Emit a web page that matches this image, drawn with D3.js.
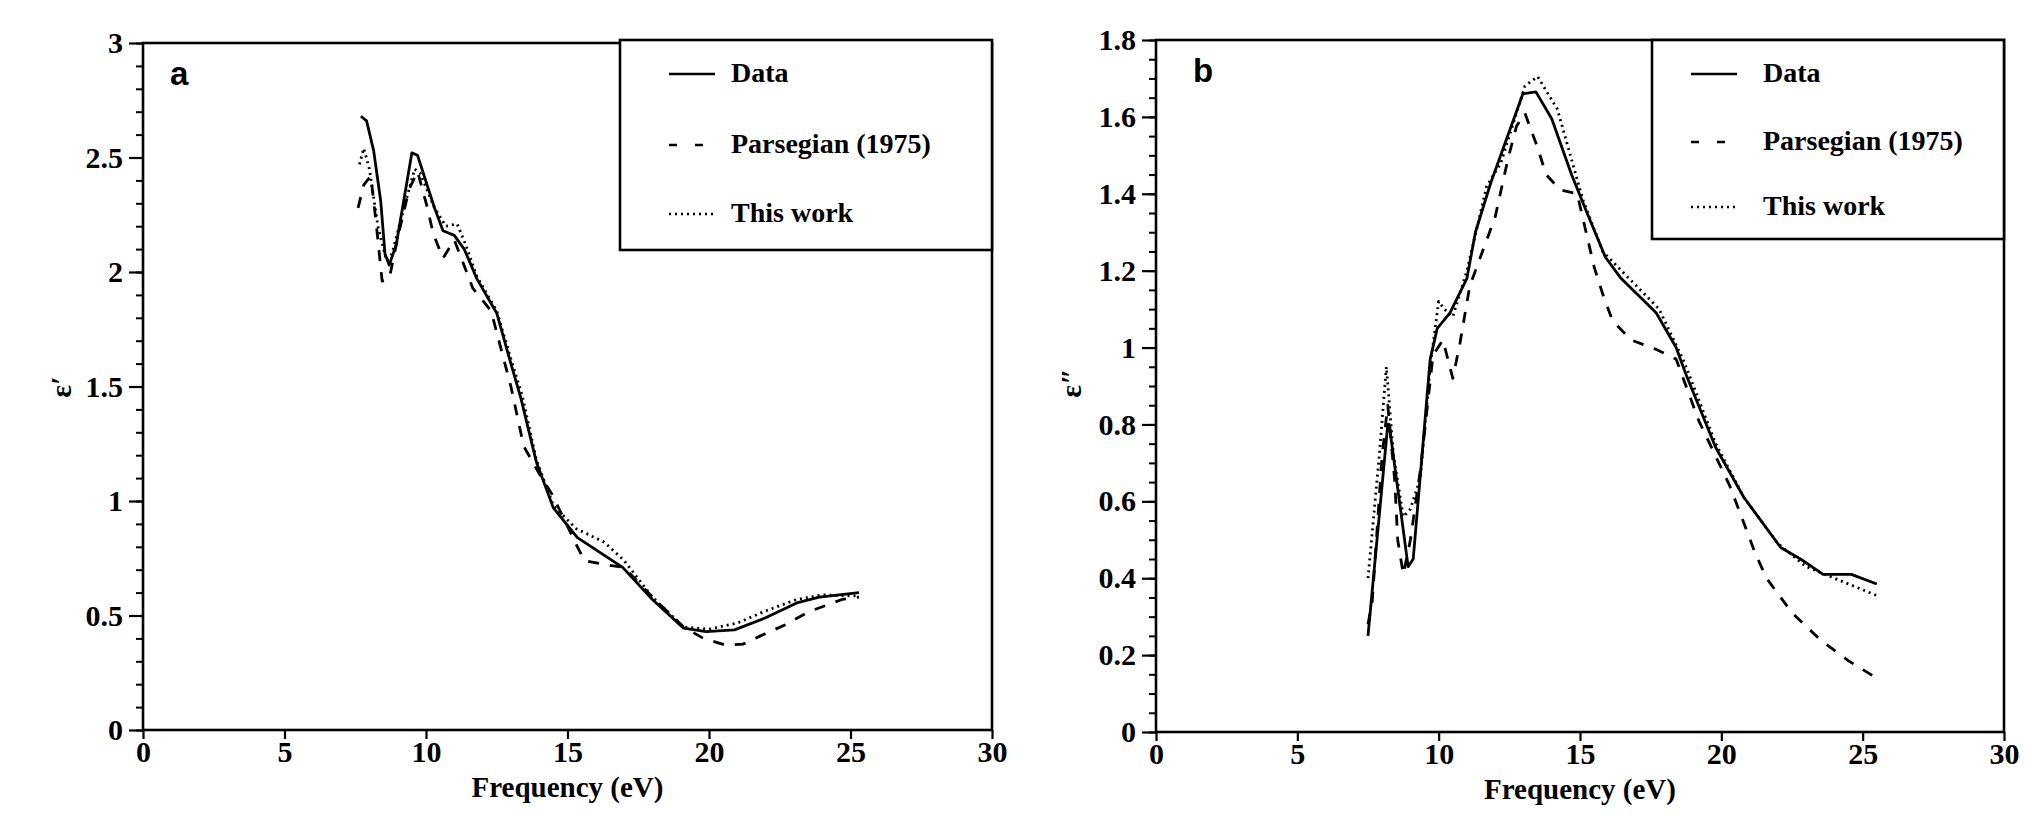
<!DOCTYPE html>
<html>
<head>
<meta charset="utf-8">
<script src="https://cdn.jsdelivr.net/npm/d3@7"></script>
<style>
  html, body { margin: 0; padding: 0; background: #fff; }
  svg { display: block; }
  .tick text { font-family: "Liberation Serif", "Times New Roman", serif; font-weight: bold; }
</style>
</head>
<body>
<div id="chart"></div>
<script>
// dielectric function, panel a (eps') and panel b (eps'')

const xTicks = [0, 5, 10, 15, 20, 25, 30];
const yTicksA = [0, 0.5, 1, 1.5, 2, 2.5, 3];
const yTicksB = [0, 0.2, 0.4, 0.6, 0.8, 1, 1.2, 1.4, 1.6, 1.8];
const legendLabels = ["Data", "Parsegian (1975)", "This work"];

// panel a : [eV, eps']
const dataA = [
  [7.7, 2.68], [7.9, 2.66], [8.15, 2.53], [8.4, 2.31], [8.55, 2.08], [8.7, 2.03],
  [8.95, 2.12], [9.5, 2.52], [9.7, 2.51], [10.3, 2.28], [10.6, 2.18], [11.0, 2.16],
  [11.35, 2.10], [11.8, 1.97], [12.5, 1.82], [13.0, 1.60], [13.35, 1.45], [13.9, 1.17],
  [14.5, 0.97], [15.35, 0.84], [16.95, 0.71], [18.0, 0.57], [19.1, 0.445], [19.9, 0.43],
  [20.9, 0.437], [22.0, 0.49], [23.1, 0.555], [23.9, 0.58], [25.3, 0.60]
];
const parsegianA = [
  [7.6, 2.28], [7.8, 2.38], [8.05, 2.42], [8.25, 2.2], [8.45, 1.96], [8.7, 1.97],
  [9.0, 2.15], [9.4, 2.36], [9.7, 2.44], [10.05, 2.28], [10.25, 2.17], [10.6, 2.06],
  [11.0, 2.14], [11.65, 1.93], [12.3, 1.83], [13.0, 1.5], [13.45, 1.24], [14.0, 1.12],
  [14.45, 1.03], [15.35, 0.80], [15.6, 0.74], [16.4, 0.72], [17.0, 0.71], [18.0, 0.58],
  [19.1, 0.45], [19.8, 0.40], [20.6, 0.37], [21.2, 0.375], [21.8, 0.41], [22.7, 0.46],
  [23.5, 0.515], [24.7, 0.57], [25.3, 0.58]
];
const thisWorkA = [
  [7.65, 2.47], [7.8, 2.54], [8.0, 2.45], [8.3, 2.2], [8.6, 2.05], [8.8, 2.08],
  [9.2, 2.27], [9.6, 2.45], [9.8, 2.43], [10.3, 2.28], [10.7, 2.2], [11.1, 2.21],
  [11.4, 2.12], [11.8, 1.98], [12.5, 1.83], [13.0, 1.62], [13.4, 1.46], [13.9, 1.18],
  [14.5, 0.98], [15.3, 0.88], [16.3, 0.82], [17.0, 0.74], [18.0, 0.58], [19.1, 0.45],
  [20.0, 0.44], [21.0, 0.467], [22.0, 0.52], [23.1, 0.57], [24.0, 0.59], [25.3, 0.585]
];

// panel b : [eV, eps'']
const dataB = [
  [7.5, 0.25], [8.2, 0.80], [8.25, 0.80], [8.92, 0.43], [9.1, 0.45], [9.7, 0.97],
  [9.95, 1.05], [10.4, 1.09], [11.0, 1.18], [11.3, 1.30], [11.85, 1.43], [12.98, 1.66],
  [13.44, 1.665], [14.0, 1.595], [14.7, 1.45], [15.25, 1.35], [15.9, 1.235], [16.45, 1.18],
  [17.7, 1.09], [18.4, 1.0], [18.75, 0.93], [19.8, 0.74], [20.8, 0.61], [22.1, 0.48],
  [22.8, 0.45], [23.6, 0.41], [24.6, 0.41], [25.5, 0.385]
];
const parsegianB = [
  [7.5, 0.28], [7.65, 0.34], [8.0, 0.72], [8.2, 0.85], [8.45, 0.65], [8.55, 0.50],
  [8.75, 0.41], [9.0, 0.50], [9.35, 0.68], [9.8, 0.98], [10.15, 1.02], [10.5, 0.92],
  [10.75, 1.01], [11.1, 1.16], [12.0, 1.34], [12.45, 1.49], [12.75, 1.575], [13.05, 1.61],
  [13.5, 1.52], [13.8, 1.45], [14.3, 1.41], [14.9, 1.40], [15.5, 1.21], [15.8, 1.14],
  [16.15, 1.07], [16.8, 1.02], [17.7, 0.995], [18.4, 0.97], [19.2, 0.81], [20.3, 0.64],
  [21.2, 0.465], [21.6, 0.40], [22.5, 0.31], [23.5, 0.24], [24.5, 0.185], [25.5, 0.14]
];
const thisWorkB = [
  [7.5, 0.40], [7.9, 0.72], [8.15, 0.95], [8.4, 0.72], [8.75, 0.56], [9.0, 0.58],
  [9.35, 0.66], [9.7, 0.95], [10.0, 1.12], [10.2, 1.10], [10.5, 1.08], [11.0, 1.20],
  [11.7, 1.42], [12.2, 1.48], [13.05, 1.68], [13.5, 1.705], [14.2, 1.62], [15.1, 1.385],
  [15.8, 1.25], [16.6, 1.19], [17.8, 1.10], [18.7, 0.96], [19.8, 0.75], [20.8, 0.61],
  [22.0, 0.49], [23.0, 0.43], [24.0, 0.40], [25.5, 0.355]
];

const W = 2026, H = 838;
const serif = '"Liberation Serif", "Times New Roman", serif';
const sans = '"Liberation Sans", Arial, sans-serif';

const svg = d3.select("#chart")
  .append("svg")
  .attr("width", W)
  .attr("height", H);

const styles = [
  { dash: null, width: 2.8 },      // Data
  { dash: "11 11", width: 2.8 },   // Parsegian
  { dash: "2 4", width: 2.8 }      // This work
];

function drawPanel(p) {
  const x = d3.scaleLinear().domain([0, 30]).range([p.left, p.right]);
  const y = d3.scaleLinear().domain([0, p.yMax]).range([p.bottom, p.top]);

  const g = svg.append("g");

  // minor y ticks
  g.append("g")
    .attr("transform", `translate(${p.left},0)`)
    .call(d3.axisLeft(y).tickValues(d3.range(0, p.yMax + 1e-9, p.minor)).tickSize(7).tickFormat(""))
    .call((a) => a.select(".domain").remove())
    .call((a) => a.selectAll("line").attr("stroke-width", 2));

  // major y ticks
  g.append("g")
    .attr("transform", `translate(${p.left},0)`)
    .call(d3.axisLeft(y).tickValues(p.yTicks).tickSize(14).tickPadding(6).tickFormat((v) => String(+v.toFixed(1))))
    .call((a) => a.select(".domain").remove())
    .call((a) => a.selectAll("line").attr("stroke-width", 2.2))
    .call((a) => a.selectAll("text").attr("font-size", 30).attr("fill", "#000"));

  // x ticks
  g.append("g")
    .attr("transform", `translate(0,${p.bottom})`)
    .call(d3.axisBottom(x).tickValues(xTicks).tickSize(9).tickPadding(2))
    .call((a) => a.select(".domain").remove())
    .call((a) => a.selectAll("line").attr("stroke-width", 2.2))
    .call((a) => a.selectAll("text").attr("font-size", 30).attr("fill", "#000"));

  // frame
  g.append("rect")
    .attr("x", p.left)
    .attr("y", p.top)
    .attr("width", p.right - p.left)
    .attr("height", p.bottom - p.top)
    .attr("fill", "none")
    .attr("stroke", "#000")
    .attr("stroke-width", 2.6);

  // curves
  const line = d3.line().x((d) => x(d[0])).y((d) => y(d[1]));
  p.series.forEach((s, i) => {
    g.append("path")
      .datum(s)
      .attr("d", line)
      .attr("fill", "none")
      .attr("stroke", "#000")
      .attr("stroke-width", styles[i].width)
      .attr("stroke-linejoin", "round")
      .attr("stroke-dasharray", styles[i].dash);
  });

  // panel letter
  g.append("text")
    .attr("x", p.left + p.letterDx)
    .attr("y", p.top + 42)
    .attr("font-family", sans)
    .attr("font-weight", "bold")
    .attr("font-size", 33)
    .text(p.letter);

  // axis titles
  g.append("text")
    .attr("x", (p.left + p.right) / 2)
    .attr("y", p.bottom + 67)
    .attr("text-anchor", "middle")
    .attr("font-family", serif)
    .attr("font-weight", "bold")
    .attr("font-size", 29)
    .text("Frequency (eV)");

  g.append("text")
    .attr("transform", `translate(${p.yLabelX},${p.yLabelY}) rotate(-90)`)
    .attr("text-anchor", "middle")
    .attr("dy", "0.35em")
    .attr("font-family", serif)
    .attr("font-weight", "bold")
    .attr("font-size", 30)
    .text(p.yLabel);

  // legend
  const L = p.legend;
  g.append("rect")
    .attr("x", L.x0)
    .attr("y", L.y0)
    .attr("width", p.right - L.x0)
    .attr("height", L.y1 - L.y0)
    .attr("fill", "#fff")
    .attr("stroke", "#000")
    .attr("stroke-width", 2.6);

  legendLabels.forEach((lab, i) => {
    const ly = L.rows[i];
    g.append("line")
      .attr("x1", L.x0 + L.lineDx)
      .attr("x2", L.x0 + L.lineDx + 46)
      .attr("y1", ly - 8)
      .attr("y2", ly - 8)
      .attr("stroke", "#000")
      .attr("stroke-width", 2.6)
      .attr("stroke-dasharray", i === 1 ? "8 18" : styles[i].dash);
    g.append("text")
      .attr("x", L.x0 + L.textDx)
      .attr("y", ly)
      .attr("font-family", serif)
      .attr("font-weight", "bold")
      .attr("font-size", 28)
      .text(lab);
  });
}

drawPanel({
  left: 143, right: 992, top: 43, bottom: 730,
  yMax: 3, yTicks: yTicksA, minor: 0.1,
  series: [dataA, parsegianA, thisWorkA],
  letter: "a", letterDx: 27,
  yLabel: "ε′", yLabelX: 60, yLabelY: 387,
  legend: { x0: 620, y0: 40, y1: 250, lineDx: 49, textDx: 111, rows: [82, 153, 222] }
});

drawPanel({
  left: 1156, right: 2004, top: 40, bottom: 732,
  yMax: 1.8, yTicks: yTicksB, minor: 0.05,
  series: [dataB, parsegianB, thisWorkB],
  letter: "b", letterDx: 37,
  yLabel: "ε″", yLabelX: 1070, yLabelY: 383,
  legend: { x0: 1652, y0: 40, y1: 239, lineDx: 39, textDx: 111, rows: [82, 150, 215] }
});
</script>
</body>
</html>
